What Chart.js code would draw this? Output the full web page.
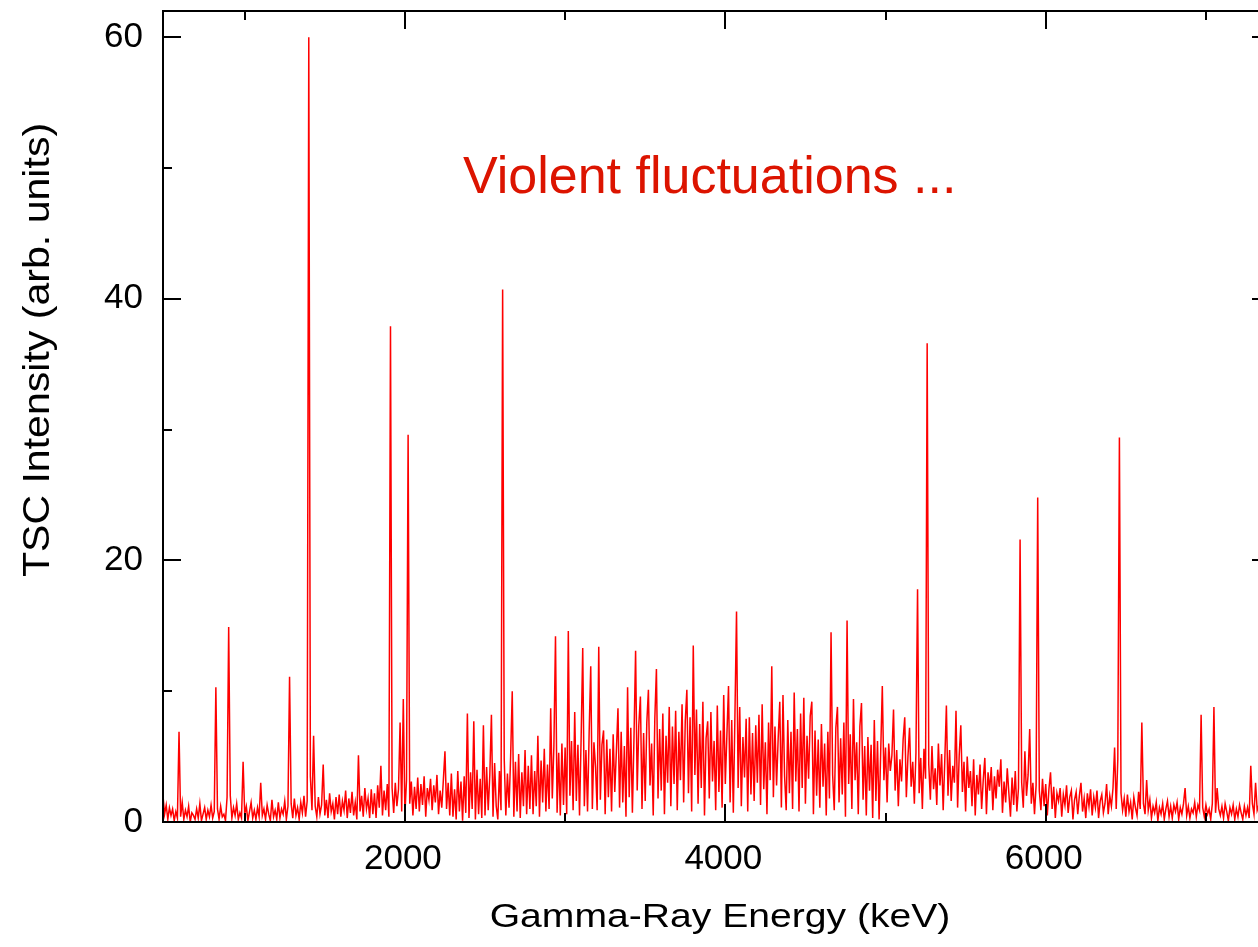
<!DOCTYPE html>
<html lang="en">
<head>
  <meta charset="UTF-8">
  <title>TSC Intensity vs Gamma-Ray Energy</title>
  <script src="https://cdn.jsdelivr.net/npm/chart.js"></script>
  <style>
    html, body {
      margin: 0;
      padding: 0;
      background: #fff;
      overflow: hidden;
    }
    canvas {
      display: block;
    }
  </style>
</head>
<body>

<canvas id="spectrumChart" width="1290" height="947"></canvas>

<script>
  // spectrum channels: 10 keV apart, first channel at 490 keV
  const energyStart = 490;
  const energyStep = 10;
  const intensity = [
    /* 490 */ 2.0, 0.6, 1.3, 0.2, 1.1, 0.5, 1.0, 0.1, 0.8, 0.3,
    /* 590 */ 6.9, 0.4, 1.5, 0.2, 0.9, 0.4, 1.2, 0.0, 0.7, 0.5,
    /* 690 */ 0.2, 1.0, 0.3, 1.4, 0.1, 0.6, 1.1, 0.2, 0.9, 0.4,
    /* 790 */ 1.3, 0.3, 0.8, 10.3, 1.0, 0.2, 1.2, 0.4, 0.6, 0.1,
    /* 890 */ 1.9, 14.9, 2.0, 0.3, 1.1, 0.5, 1.4, 0.2, 0.7, 0.3,
    /* 990 */ 4.6, 0.6, 1.2, 0.1, 0.8, 1.5, 0.3, 0.9, 0.2, 1.1,
    /* 1090 */ 0.4, 3.0, 0.5, 1.0, 0.2, 1.3, 0.6, 0.1, 1.7, 0.4,
    /* 1190 */ 0.9, 0.2, 1.5, 0.3, 1.0, 0.6, 1.6, 0.2, 1.2, 11.1,
    /* 1290 */ 1.4, 0.3, 1.8, 0.5, 1.1, 0.2, 1.5, 0.7, 2.0, 0.4,
    /* 1390 */ 1.6, 60.0, 3.5, 0.9, 6.6, 1.2, 0.4, 1.9, 0.6, 1.3,
    /* 1490 */ 4.4, 0.5, 1.7, 0.3, 2.2, 0.8, 1.4, 0.2, 1.9, 0.6,
    /* 1590 */ 2.1, 0.4, 1.6, 0.9, 2.4, 0.3, 1.8, 0.7, 2.3, 0.5,
    /* 1690 */ 1.5, 0.2, 5.1, 0.8, 2.0, 0.4, 2.6, 1.0, 1.8, 0.3,
    /* 1790 */ 2.5, 0.6, 2.2, 0.3, 2.8, 1.1, 4.3, 0.5, 2.4, 0.9,
    /* 1890 */ 2.9, 0.4, 37.9, 2.6, 0.7, 3.0, 1.2, 2.5, 7.6, 0.8,
    /* 1990 */ 9.4, 0.6, 3.2, 29.6, 1.4, 3.1, 0.5, 2.7, 1.0, 3.4,
    /* 2090 */ 0.8, 2.9, 1.3, 3.5, 0.4, 2.6, 1.7, 3.3, 0.9, 2.8,
    /* 2190 */ 1.5, 3.6, 0.6, 2.4, 1.1, 3.2, 5.4, 1.0, 3.0, 0.5,
    /* 2290 */ 3.7, 0.4, 2.5, 0.2, 3.9, 0.8, 3.1, 0.1, 3.5, 0.7,
    /* 2390 */ 8.3, 0.3, 3.8, 1.0, 7.7, 0.2, 4.0, 0.6, 3.3, 0.3,
    /* 2490 */ 7.4, 0.5, 4.2, 0.9, 3.6, 8.2, 0.4, 4.5, 1.2, 0.2,
    /* 2590 */ 3.9, 0.9, 40.7, 4.8, 0.5, 3.7, 1.1, 5.0, 10.0, 0.4,
    /* 2690 */ 4.6, 0.8, 5.2, 0.3, 3.8, 1.2, 5.5, 0.6, 4.3, 1.0,
    /* 2790 */ 5.1, 0.6, 3.9, 1.2, 6.6, 0.4, 4.7, 1.5, 5.6, 0.8,
    /* 2890 */ 4.4, 1.0, 8.7, 1.8, 5.8, 14.2, 0.7, 5.3, 0.5, 6.0,
    /* 2990 */ 1.3, 5.7, 0.6, 14.6, 2.0, 6.2, 0.9, 8.4, 1.6, 5.9,
    /* 3090 */ 0.5, 6.4, 13.3, 1.2, 5.5, 0.8, 6.8, 11.9, 1.0, 6.1,
    /* 3190 */ 4.2, 0.9, 13.4, 1.7, 5.9, 7.0, 0.6, 6.3, 1.9, 5.6,
    /* 3290 */ 0.8, 6.7, 2.3, 5.4, 8.7, 1.1, 6.9, 1.5, 5.8, 0.4,
    /* 3390 */ 10.3, 1.9, 7.2, 0.7, 6.5, 13.1, 2.4, 7.4, 9.6, 1.0,
    /* 3490 */ 6.8, 1.6, 7.6, 10.1, 2.8, 6.0, 0.5, 7.9, 11.7, 1.8,
    /* 3590 */ 7.1, 2.4, 8.3, 0.6, 6.6, 3.0, 8.8, 1.2, 7.3, 2.9,
    /* 3690 */ 8.5, 0.9, 6.9, 3.2, 9.0, 1.5, 7.7, 10.1, 2.2, 8.0,
    /* 3790 */ 0.8, 13.5, 3.6, 8.6, 1.4, 7.5, 2.6, 9.2, 0.5, 6.4,
    /* 3890 */ 7.7, 1.8, 8.4, 3.1, 6.2, 0.9, 8.9, 2.3, 7.0, 1.1,
    /* 3990 */ 9.7, 2.9, 6.7, 10.4, 1.5, 7.8, 0.7, 8.1, 16.1, 2.6,
    /* 4090 */ 8.8, 1.2, 6.5, 3.4, 7.9, 0.8, 8.0, 2.1, 6.8, 1.6,
    /* 4190 */ 7.4, 3.0, 8.2, 1.3, 9.0, 2.5, 6.1, 0.6, 7.6, 3.2,
    /* 4290 */ 11.9, 1.9, 7.3, 2.8, 6.4, 9.2, 1.1, 9.7, 3.5, 0.9,
    /* 4390 */ 7.8, 2.2, 6.9, 1.0, 9.9, 3.1, 7.1, 0.8, 8.3, 2.6,
    /* 4490 */ 9.5, 1.4, 6.6, 3.3, 8.1, 9.2, 0.6, 7.0, 2.0, 6.3,
    /* 4590 */ 1.1, 7.5, 2.7, 6.0, 0.5, 6.9, 1.8, 14.5, 3.6, 0.9,
    /* 4690 */ 7.2, 8.8, 1.5, 6.4, 2.1, 7.6, 0.4, 15.4, 2.9, 6.7,
    /* 4790 */ 1.0, 9.4, 3.2, 6.1, 0.6, 7.3, 9.1, 1.7, 5.8, 0.5,
    /* 4890 */ 6.5, 2.4, 5.9, 0.3, 7.8, 1.6, 6.2, 0.2, 5.4, 10.4,
    /* 4990 */ 3.2, 5.7, 1.5, 6.0, 3.9, 5.1, 8.6, 2.4, 5.5, 1.2,
    /* 5090 */ 4.8, 3.1, 6.3, 8.0, 1.9, 5.0, 7.2, 2.7, 4.6, 1.4,
    /* 5190 */ 5.3, 17.8, 2.2, 4.9, 1.0, 5.6, 3.3, 36.6, 4.4, 1.7,
    /* 5290 */ 5.8, 2.5, 4.1, 1.3, 6.0, 2.8, 5.2, 0.9, 4.7, 8.9,
    /* 5390 */ 2.0, 5.5, 1.6, 4.3, 3.0, 8.5, 1.1, 5.1, 7.4, 2.3,
    /* 5490 */ 4.6, 0.8, 5.0, 2.6, 3.9, 1.2, 4.8, 0.5, 3.6, 2.1,
    /* 5590 */ 4.4, 1.0, 3.2, 4.9, 0.6, 3.8, 2.4, 4.2, 0.9, 3.5,
    /* 5690 */ 1.8, 4.0, 2.7, 4.8, 0.7, 3.1, 1.5, 4.1, 2.2, 0.4,
    /* 5790 */ 3.4, 1.3, 3.9, 0.8, 2.6, 21.6, 3.0, 1.1, 5.4, 2.0,
    /* 5890 */ 3.6, 7.1, 1.4, 3.0, 0.6, 2.8, 24.8, 2.4, 0.9, 3.3,
    /* 5990 */ 1.2, 2.9, 0.5, 2.5, 3.8, 1.0, 2.7, 0.3, 2.2, 1.6,
    /* 6090 */ 2.6, 0.4, 2.1, 1.3, 2.8, 0.7, 1.9, 2.4, 0.2, 1.7,
    /* 6190 */ 2.3, 0.6, 2.0, 3.0, 0.8, 1.8, 0.3, 2.2, 1.2, 2.5,
    /* 6290 */ 0.5, 1.9, 1.1, 2.4, 0.3, 1.6, 2.1, 0.7, 1.4, 2.9,
    /* 6390 */ 0.6, 2.0, 1.2, 2.6, 5.7, 1.0, 4.8, 29.4, 2.2, 0.9,
    /* 6490 */ 1.8, 0.4, 2.1, 0.8, 1.5, 0.2, 1.9, 1.1, 0.5, 2.3,
    /* 6590 */ 1.0, 7.6, 1.4, 0.6, 3.2, 0.9, 1.7, 0.3, 1.2, 0.7,
    /* 6690 */ 1.5, 0.1, 1.1, 0.6, 1.4, 0.2, 1.0, 1.6, 0.4, 1.2,
    /* 6790 */ 0.3, 1.3, 0.8, 1.5, 0.2, 1.1, 0.6, 1.4, 2.6, 0.5,
    /* 6890 */ 1.2, 0.3, 1.0, 0.7, 1.5, 0.4, 1.3, 0.9, 8.2, 1.1,
    /* 6990 */ 0.4, 1.3, 0.6, 1.0, 0.2, 1.4, 8.8, 0.7, 2.6, 1.0,
    /* 7090 */ 0.5, 1.2, 0.3, 1.4, 0.8, 0.1, 1.1, 0.6, 1.3, 0.2,
    /* 7190 */ 1.0, 0.4, 1.3, 0.7, 0.2, 1.2, 0.5, 1.1, 0.3, 4.3,
    /* 7290 */ 1.4, 0.6, 3.0, 0.9, 1.3, 0.4, 1.1, 0.7, 1.2, 0.3,
    /* 7390 */ 0.9, 0.5
  ];

  const xMajorTicks = [2000, 4000, 6000];
  const xMinorTicks = [1000, 3000, 5000, 7000];
  const yMajorTicks = [0, 20, 40, 60];
  const yMinorTicks = [10, 30, 50];

  const xTitle = "Gamma-Ray Energy (keV)";
  const yTitle = "TSC Intensity (arb. units)";
  const note = "Violent fluctuations ...";

  const points = intensity.map((v, i) => ({ x: energyStart + i * energyStep, y: v }));

  const FONT = '"Liberation Sans", Arial, Helvetica, sans-serif';

  // box, inward ticks on all four sides, labels and titles
  const framePlugin = {
    id: "frame",
    afterDatasetsDraw(chart) {
      const { ctx, chartArea: a, scales } = chart;
      const x = scales.x, y = scales.y;
      ctx.save();
      ctx.strokeStyle = "#000";
      ctx.lineWidth = 2;
      ctx.strokeRect(a.left, a.top, a.right - a.left, a.bottom - a.top);

      ctx.beginPath();
      const xt = (v, len) => {
        const px = Math.round(x.getPixelForValue(v));
        ctx.moveTo(px, a.bottom); ctx.lineTo(px, a.bottom - len);
        ctx.moveTo(px, a.top); ctx.lineTo(px, a.top + len);
      };
      const yt = (v, len) => {
        const py = Math.round(y.getPixelForValue(v));
        ctx.moveTo(a.left, py); ctx.lineTo(a.left + len, py);
        ctx.moveTo(a.right, py); ctx.lineTo(a.right - len, py);
      };
      xMajorTicks.forEach(v => xt(v, 18));
      xMinorTicks.forEach(v => xt(v, 9));
      yMajorTicks.forEach(v => yt(v, 18));
      yMinorTicks.forEach(v => yt(v, 9));
      ctx.stroke();

      ctx.fillStyle = "#000";
      ctx.font = "35px " + FONT;
      ctx.textBaseline = "middle";
      ctx.textAlign = "center";
      xMajorTicks.forEach(v => ctx.fillText(String(v), x.getPixelForValue(v) - 2, 859));
      ctx.textAlign = "right";
      yMajorTicks.forEach(v => ctx.fillText(String(v), 143, y.getPixelForValue(v)));

      // axis titles
      ctx.textBaseline = "alphabetic";
      ctx.textAlign = "center";
      ctx.font = "34px " + FONT;
      ctx.save();
      ctx.translate(720, 927);
      ctx.scale(1.15, 1);
      ctx.fillText(xTitle, 0, 0);
      ctx.restore();

      ctx.font = "37px " + FONT;
      ctx.save();
      ctx.translate(49, 350);
      ctx.rotate(-Math.PI / 2);
      ctx.scale(1.11, 1);
      ctx.fillText(yTitle, 0, 0);
      ctx.restore();

      // annotation
      ctx.fillStyle = "#dc1400";
      ctx.font = "52px " + FONT;
      ctx.textAlign = "left";
      ctx.fillText(note, 463, 193);
      ctx.restore();
    }
  };

  const ctx = document.getElementById("spectrumChart").getContext("2d");
  const chart = new Chart(ctx, {
    type: "line",
    data: {
      datasets: [{
        label: "TSC",
        data: points,
        borderColor: "#ff0000",
        borderWidth: 1.5,
        pointRadius: 0,
        tension: 0,
        fill: false
      }]
    },
    options: {
      responsive: false,
      animation: false,
      events: [],
      layout: {
        padding: { left: 0, top: 11, right: 20, bottom: 0 }
      },
      plugins: {
        legend: { display: false },
        tooltip: { enabled: false }
      },
      scales: {
        x: {
          type: "linear",
          min: 490,
          max: 7400,
          ticks: { display: false },
          grid: { display: false },
          border: { display: false },
          afterFit: function(scale) { scale.height = 125; }
        },
        y: {
          min: 0,
          max: 62,
          ticks: { display: false },
          grid: { display: false },
          border: { display: false },
          afterFit: function(scale) { scale.width = 163; }
        }
      }
    },
    plugins: [framePlugin]
  });
</script>

</body>
</html>
